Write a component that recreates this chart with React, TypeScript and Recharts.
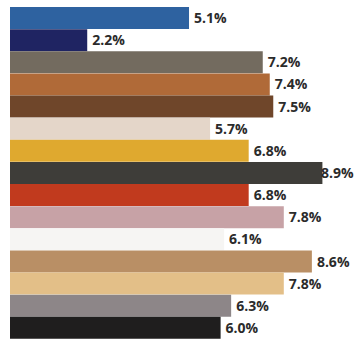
import React from 'react';
import { BarChart, Bar, XAxis, YAxis, Cell, LabelList } from 'recharts';

// Categorias (sem nomes visíveis no gráfico original)
const categories = [
  'c01', 'c02', 'c03', 'c04', 'c05', 'c06', 'c07', 'c08',
  'c09', 'c10', 'c11', 'c12', 'c13', 'c14', 'c15'
];

// Valores em %
const values = [5.1, 2.2, 7.2, 7.4, 7.5, 5.7, 6.8, 8.9, 6.8, 7.8, 6.1, 8.6, 7.8, 6.3, 6.0];

// Cores de cada barra
const barColors = [
  '#2e62a0', '#1f2462', '#736b5f', '#b06a38', '#6f462a', '#e4d6c9', '#dfa92f', '#3e3d39',
  '#c13a1e', '#c7a2a6', '#f6f5f3', '#b98f65', '#e3bf88', '#8d8688', '#1f1e1e'
];

const CHART_W = 355;
const CHART_H = 339;

const data = categories.map((name, i) => ({ name, value: values[i], color: barColors[i] }));

// Rótulo à direita da barra, sem sair da área visível
const renderValueLabel = (props: any) => {
  const { x, y, width, height, value } = props;
  const text = `${Number(value).toFixed(1)}%`;
  const approxW = 33;
  let lx = x + width + 5;
  if (lx + approxW > CHART_W - 1) lx = CHART_W - 1 - approxW;
  return (
    <text
      x={lx}
      y={y + height / 2}
      dy="0.36em"
      fill="#2b2b2b"
      fontSize={14}
      fontWeight={700}
      fontFamily="'Open Sans', sans-serif"
    >
      {text}
    </text>
  );
};

export default function App() {
  return (
    <div style={{ position: 'absolute', left: 0, top: 0, width: CHART_W, height: CHART_H, background: '#fff' }}>
      <BarChart
        width={CHART_W}
        height={CHART_H}
        data={data}
        layout="vertical"
        margin={{ top: 7, right: 1, bottom: 0, left: 10 }}
        barCategoryGap={0}
      >
        <XAxis type="number" domain={[0, 9.8]} hide />
        <YAxis type="category" dataKey="name" hide />
        <Bar dataKey="value" isAnimationActive={false}>
          {data.map((d, i) => (
            <Cell key={`cell-${i}`} fill={d.color} />
          ))}
          <LabelList dataKey="value" content={renderValueLabel} />
        </Bar>
      </BarChart>
    </div>
  );
}
